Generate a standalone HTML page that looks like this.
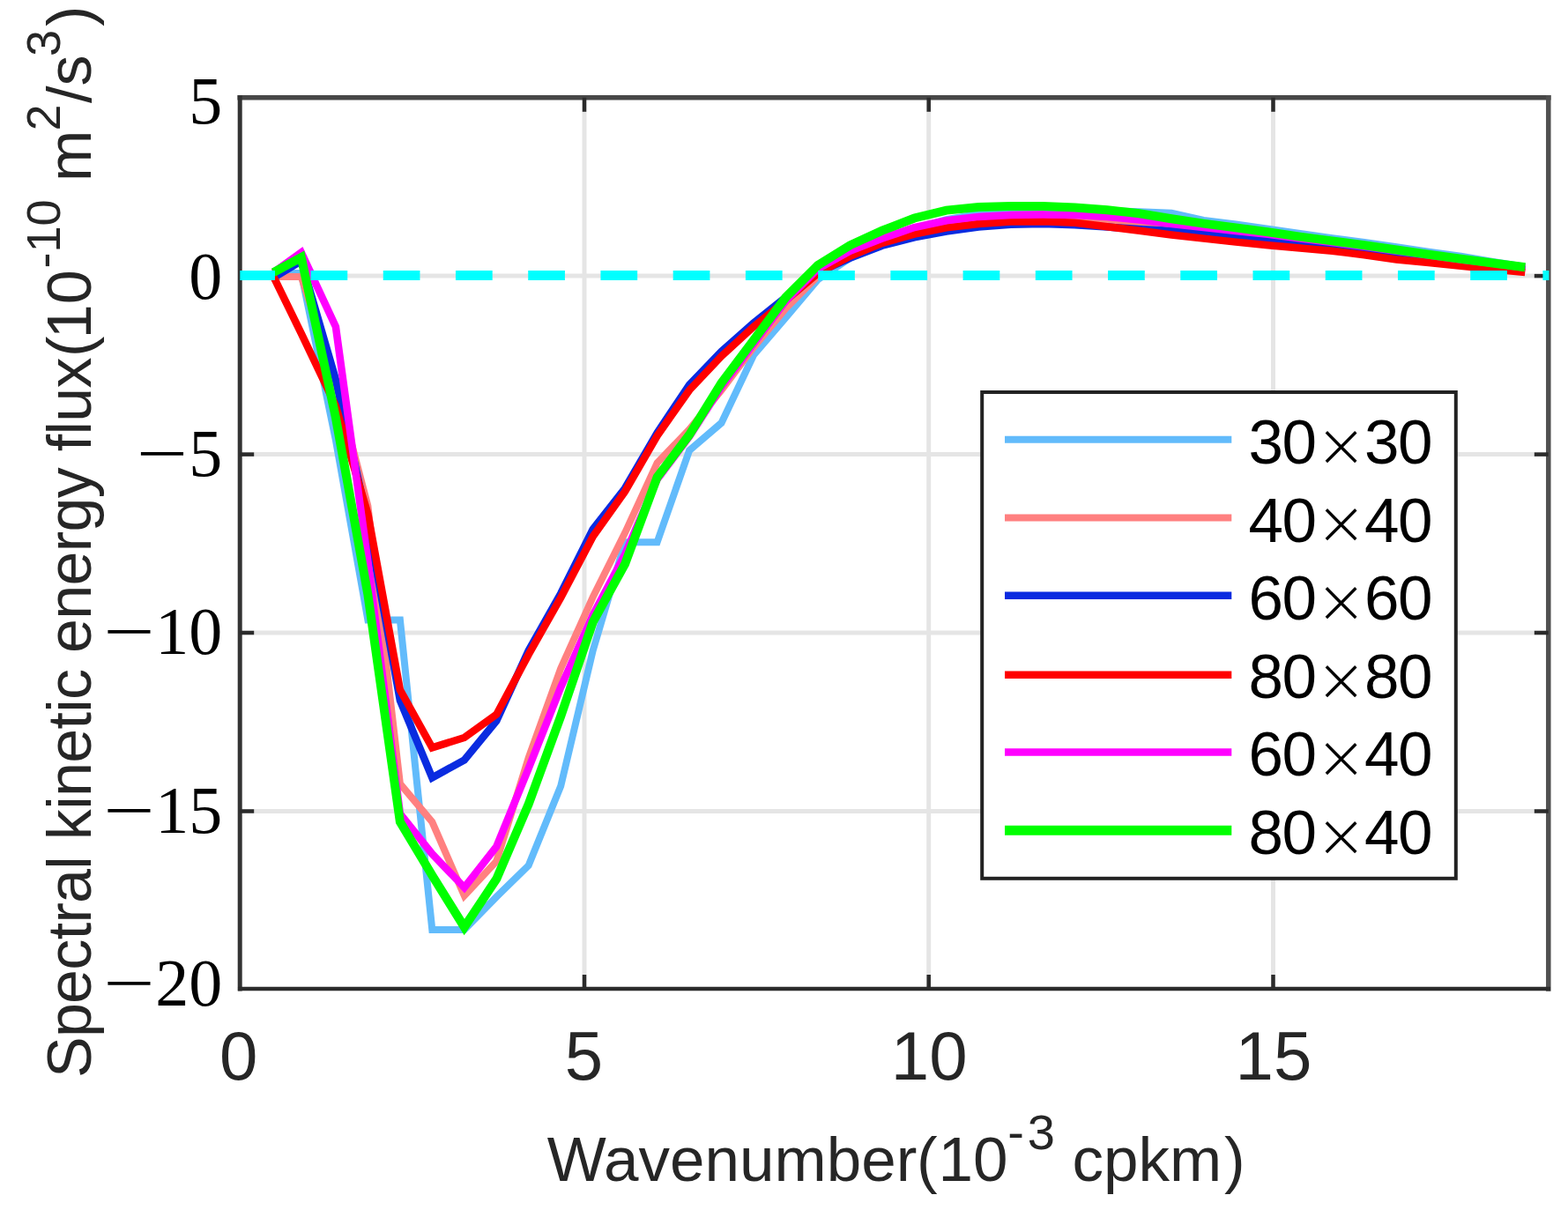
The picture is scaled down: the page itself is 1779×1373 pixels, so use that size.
<!DOCTYPE html>
<html><head><meta charset="utf-8"><title>Spectral kinetic energy flux</title>
<style>html,body{margin:0;padding:0;background:#fff;}svg{display:block;}</style></head><body>
<svg width="1779" height="1373" viewBox="0 0 1779 1373">
<rect x="0" y="0" width="1779" height="1373" fill="#fff"/>
<g stroke="#e5e5e5" stroke-width="5" fill="none">
<line x1="663.0" y1="110.8" x2="663.0" y2="1122.0"/>
<line x1="1053.7" y1="110.8" x2="1053.7" y2="1122.0"/>
<line x1="1444.5" y1="110.8" x2="1444.5" y2="1122.0"/>
<line x1="272.2" y1="313.1" x2="1756.8" y2="313.1"/>
<line x1="272.2" y1="515.6" x2="1756.8" y2="515.6"/>
<line x1="272.2" y1="718.0" x2="1756.8" y2="718.0"/>
<line x1="272.2" y1="920.5" x2="1756.8" y2="920.5"/>
</g>
<g fill="none" stroke-linejoin="miter" stroke-miterlimit="3" stroke-linecap="butt">
<polyline points="310.3,309.9 341.8,309.9 380.9,499.4 417.4,703.4 453.9,703.4 490.3,1054.9 526.8,1054.9 563.3,1017.6 599.7,982.0 636.2,892.1 672.7,738.2 709.1,615.2 745.6,615.2 782.1,511.1 818.5,479.9 855.0,403.0 891.5,360.5 928.0,317.1 964.4,292.9 1000.9,273.4 1037.4,259.2 1073.8,249.1 1110.3,242.6 1146.8,239.0 1183.2,237.4 1219.7,237.4 1256.2,239.0 1292.7,240.2 1329.1,241.8 1365.6,249.9 1402.1,254.4 1438.5,259.7 1475.0,264.9 1511.5,270.2 1548.0,275.0 1584.4,280.3 1620.9,285.6 1657.4,290.8 1693.8,296.9 1730.3,302.6" stroke="#62bbfb" stroke-width="8"/>
<polyline points="310.3,313.9 341.8,313.9 380.9,434.6 417.4,574.3 453.9,889.3 490.3,932.6 526.8,1016.4 563.3,977.1 599.7,859.7 636.2,758.5 672.7,677.5 709.1,604.6 745.6,525.3 782.1,487.2 818.5,442.7 855.0,394.1 891.5,349.9 928.0,313.1 964.4,288.8 1000.9,272.6 1037.4,260.5 1073.8,253.2 1110.3,249.5 1146.8,247.5 1183.2,247.1 1219.7,247.9 1256.2,249.9 1292.7,253.2 1329.1,257.2 1365.6,262.1 1402.1,265.7 1438.5,269.4 1475.0,273.4 1511.5,277.5 1548.0,281.9 1584.4,286.4 1620.9,291.2 1657.4,295.7 1693.8,300.1 1730.3,305.0" stroke="#ff8080" stroke-width="8"/>
<polyline points="310.3,315.1 341.8,296.1 380.9,430.5 417.4,592.5 453.9,794.9 490.3,882.4 526.8,862.5 563.3,818.0 599.7,738.2 636.2,673.5 672.7,600.6 709.1,554.0 745.6,491.3 782.1,436.6 818.5,398.9 855.0,366.5 891.5,337.4 928.0,309.1 964.4,292.9 1000.9,278.7 1037.4,269.4 1073.8,262.5 1110.3,257.6 1146.8,254.8 1183.2,254.0 1219.7,255.2 1256.2,257.6 1292.7,260.1 1329.1,262.1 1365.6,264.5 1402.1,266.9 1438.5,270.6 1475.0,275.0 1511.5,279.1 1548.0,283.9 1584.4,289.6 1620.9,293.7 1657.4,297.7 1693.8,301.8 1730.3,306.2" stroke="#0a2be0" stroke-width="8.5"/>
<polyline points="310.3,313.9 341.8,378.3 380.9,460.5 417.4,583.2 453.9,782.8 490.3,848.4 526.8,837.0 563.3,810.7 599.7,742.7 636.2,678.3 672.7,608.7 709.1,557.7 745.6,494.5 782.1,442.7 818.5,404.2 855.0,370.6 891.5,341.0 928.0,309.9 964.4,290.8 1000.9,275.8 1037.4,265.7 1073.8,258.4 1110.3,254.0 1146.8,251.6 1183.2,251.2 1219.7,252.8 1256.2,257.2 1292.7,261.7 1329.1,266.5 1365.6,270.6 1402.1,274.6 1438.5,278.3 1475.0,281.5 1511.5,284.8 1548.0,289.2 1584.4,294.5 1620.9,298.1 1657.4,301.8 1693.8,305.4 1730.3,309.1" stroke="#ff0000" stroke-width="8.5"/>
<polyline points="310.3,309.1 341.8,286.4 380.9,370.6 417.4,637.0 453.9,923.3 490.3,969.0 526.8,1007.1 563.3,960.5 599.7,871.9 636.2,779.9 672.7,697.8 709.1,628.9 745.6,543.9 782.1,495.3 818.5,438.6 855.0,390.0 891.5,341.4 928.0,305.0 964.4,284.8 1000.9,270.6 1037.4,258.0 1073.8,250.3 1110.3,245.9 1146.8,243.9 1183.2,243.5 1219.7,243.9 1256.2,245.9 1292.7,249.5 1329.1,254.0 1365.6,258.0 1402.1,262.1 1438.5,265.7 1475.0,270.6 1511.5,275.0 1548.0,279.9 1584.4,284.8 1620.9,289.6 1657.4,294.5 1693.8,298.9 1730.3,303.8" stroke="#ff00ff" stroke-width="8.5"/>
<polyline points="310.3,309.1 341.8,292.0 380.9,473.8 417.4,674.7 453.9,932.6 490.3,993.3 526.8,1052.0 563.3,997.4 599.7,912.4 636.2,812.7 672.7,705.9 709.1,639.9 745.6,541.5 782.1,493.3 818.5,434.6 855.0,386.0 891.5,337.4 928.0,301.0 964.4,278.3 1000.9,261.7 1037.4,247.5 1073.8,238.6 1110.3,235.0 1146.8,234.1 1183.2,234.1 1219.7,235.4 1256.2,238.2 1292.7,242.2 1329.1,248.3 1365.6,253.6 1402.1,258.4 1438.5,263.3 1475.0,268.6 1511.5,273.4 1548.0,278.3 1584.4,283.5 1620.9,288.8 1657.4,293.7 1693.8,298.5 1730.3,303.2" stroke="#00ff00" stroke-width="10"/>
</g>
<g stroke="#2b2b2b" stroke-width="4.5" fill="none">
<line x1="272.2" y1="110.8" x2="1756.8" y2="110.8" stroke="#474747" stroke-width="5.5" stroke-linecap="square"/>
<line x1="1756.8" y1="110.8" x2="1756.8" y2="1122.0" stroke="#505050" stroke-width="5.5" stroke-linecap="square"/>
<line x1="272.2" y1="110.8" x2="272.2" y2="1122.0" stroke="#333" stroke-width="5" stroke-linecap="square"/>
<line x1="272.2" y1="1122.0" x2="1756.8" y2="1122.0" stroke="#2b2b2b" stroke-width="4.5" stroke-linecap="square"/>
<line x1="663.0" y1="1122.0" x2="663.0" y2="1106.0"/>
<line x1="663.0" y1="110.8" x2="663.0" y2="126.8"/>
<line x1="1053.7" y1="1122.0" x2="1053.7" y2="1106.0"/>
<line x1="1053.7" y1="110.8" x2="1053.7" y2="126.8"/>
<line x1="1444.5" y1="1122.0" x2="1444.5" y2="1106.0"/>
<line x1="1444.5" y1="110.8" x2="1444.5" y2="126.8"/>
<line x1="272.2" y1="313.1" x2="288.2" y2="313.1"/>
<line x1="1756.8" y1="313.1" x2="1740.8" y2="313.1"/>
<line x1="272.2" y1="515.6" x2="288.2" y2="515.6"/>
<line x1="1756.8" y1="515.6" x2="1740.8" y2="515.6"/>
<line x1="272.2" y1="718.0" x2="288.2" y2="718.0"/>
<line x1="1756.8" y1="718.0" x2="1740.8" y2="718.0"/>
<line x1="272.2" y1="920.5" x2="288.2" y2="920.5"/>
<line x1="1756.8" y1="920.5" x2="1740.8" y2="920.5"/>
</g>
<line x1="272.3" y1="312.6" x2="1757.4" y2="312.6" stroke="#00ffff" stroke-width="11" stroke-dasharray="41.7 40.53" stroke-dashoffset="2"/>
<g font-family="'Liberation Serif', serif" font-size="76" fill="#000">
<text x="252.3" y="139.5" text-anchor="end">5</text>
<text x="252.3" y="338.5" text-anchor="end">0</text>
<text x="252.3" y="540.0" text-anchor="end">5</text>
<text transform="translate(154.7 540.0) scale(1.36 1)">&#8722;</text>
<text x="252.3" y="741.5" text-anchor="end">10</text>
<text transform="translate(117.2 741.5) scale(1.36 1)">&#8722;</text>
<text x="252.3" y="944.7" text-anchor="end">15</text>
<text transform="translate(117.2 944.7) scale(1.36 1)">&#8722;</text>
<text x="252.3" y="1141.0" text-anchor="end">20</text>
<text transform="translate(117.2 1141.0) scale(1.36 1)">&#8722;</text>
</g>
<g font-family="'Liberation Sans', sans-serif" font-size="78" fill="#262626" text-anchor="middle">
<text x="270.7" y="1225">0</text>
<text x="662.5" y="1225">5</text>
<text x="1054.2" y="1225">10</text>
<text x="1445.0" y="1225">15</text>
</g>
<g font-family="'Liberation Sans', sans-serif" fill="#262626">
<text x="620.7" y="1339.5" font-size="71">Wavenumber</text>
<text x="1040" y="1339.5" font-size="71">(</text>
<text x="1064.6" y="1339.5" font-size="71">10</text>
<text x="1143.2" y="1303.5" font-size="56" letter-spacing="4">-3</text>
<text x="1216.4" y="1339.5" font-size="71">cpkm</text>
<text x="1389" y="1339.5" font-size="71">)</text>
</g>
<g font-family="'Liberation Sans', sans-serif" fill="#262626">
<text transform="translate(103.0 1223.1) rotate(-90)" font-size="70" letter-spacing="-0.70">Spectral kinetic energy flux</text>
<text transform="translate(103.0 405.1) rotate(-90)" font-size="70">(</text>
<text transform="translate(103.0 384.2) rotate(-90)" font-size="70">10</text>
<text transform="translate(68.3 304.5) rotate(-90)" font-size="54">-10</text>
<text transform="translate(103.0 206.0) rotate(-90)" font-size="70">m</text>
<text transform="translate(68.3 148.6) rotate(-90)" font-size="54">2</text>
<text transform="translate(103.0 116.9) rotate(-90)" font-size="70">/s</text>
<text transform="translate(68.3 64.0) rotate(-90)" font-size="54">3</text>
<text transform="translate(103.0 29.9) rotate(-90)" font-size="70">)</text>
</g>
<rect x="1114.2" y="445" width="537.6" height="551.8" fill="#fff" stroke="#222" stroke-width="4"/>
<g font-family="'Liberation Sans', sans-serif" fill="#000">
<line x1="1140" y1="498.8" x2="1397.3" y2="498.8" stroke="#62bbfb" stroke-width="8"/>
<text x="1416.6" y="526.0" font-size="71" letter-spacing="-1.5">30</text>
<text x="1492.6" y="528.8" font-size="69.4" font-family="'DejaVu Sans', sans-serif" font-weight="200">&#215;</text>
<text x="1548" y="526.0" font-size="71" letter-spacing="-1.5">30</text>
<line x1="1140" y1="587.5" x2="1397.3" y2="587.5" stroke="#ff8080" stroke-width="8"/>
<text x="1416.6" y="614.6" font-size="71" letter-spacing="-1.5">40</text>
<text x="1492.6" y="617.4" font-size="69.4" font-family="'DejaVu Sans', sans-serif" font-weight="200">&#215;</text>
<text x="1548" y="614.6" font-size="71" letter-spacing="-1.5">40</text>
<line x1="1140" y1="675.8" x2="1397.3" y2="675.8" stroke="#0a2be0" stroke-width="8.5"/>
<text x="1416.6" y="703.2" font-size="71" letter-spacing="-1.5">60</text>
<text x="1492.6" y="706.0" font-size="69.4" font-family="'DejaVu Sans', sans-serif" font-weight="200">&#215;</text>
<text x="1548" y="703.2" font-size="71" letter-spacing="-1.5">60</text>
<line x1="1140" y1="765.7" x2="1397.3" y2="765.7" stroke="#ff0000" stroke-width="8.5"/>
<text x="1416.6" y="791.8" font-size="71" letter-spacing="-1.5">80</text>
<text x="1492.6" y="794.6" font-size="69.4" font-family="'DejaVu Sans', sans-serif" font-weight="200">&#215;</text>
<text x="1548" y="791.8" font-size="71" letter-spacing="-1.5">80</text>
<line x1="1140" y1="853.6" x2="1397.3" y2="853.6" stroke="#ff00ff" stroke-width="8.5"/>
<text x="1416.6" y="880.4" font-size="71" letter-spacing="-1.5">60</text>
<text x="1492.6" y="883.2" font-size="69.4" font-family="'DejaVu Sans', sans-serif" font-weight="200">&#215;</text>
<text x="1548" y="880.4" font-size="71" letter-spacing="-1.5">40</text>
<line x1="1140" y1="942.2" x2="1397.3" y2="942.2" stroke="#00ff00" stroke-width="11"/>
<text x="1416.6" y="969.0" font-size="71" letter-spacing="-1.5">80</text>
<text x="1492.6" y="971.8" font-size="69.4" font-family="'DejaVu Sans', sans-serif" font-weight="200">&#215;</text>
<text x="1548" y="969.0" font-size="71" letter-spacing="-1.5">40</text>
</g>
</svg></body></html>
